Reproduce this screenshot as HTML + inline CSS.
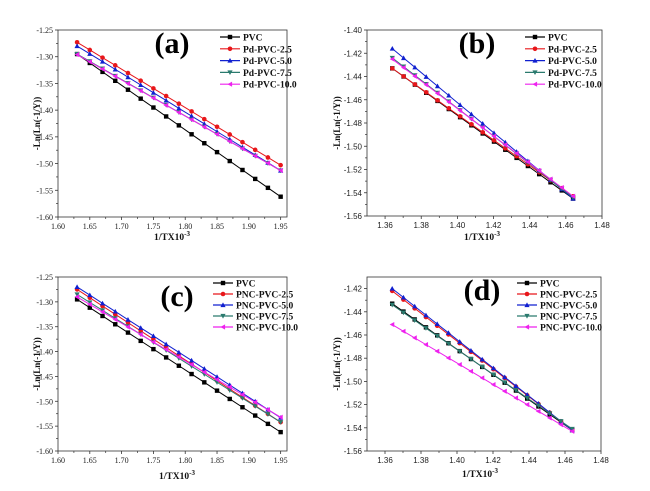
<!DOCTYPE html>
<html><head><meta charset="utf-8"><style>
html,body{margin:0;padding:0;background:#fff;width:650px;height:491px;overflow:hidden}
svg{display:block;font-family:"Liberation Serif",serif}
</style></head><body>
<svg id="fig" width="650" height="491" viewBox="0 0 650 491"></svg>
<script>
const xsAC=[1.63,1.65,1.67,1.69,1.71,1.73,1.75,1.77,1.79,1.81,1.83,1.85,1.87,1.89,1.91,1.93,1.95];
const xsBD=[1.364,1.37025,1.3765,1.38275,1.389,1.39525,1.4015,1.40775,1.414,1.42025,1.4265,1.43275,1.439,1.44525,1.4515,1.45775,1.464];
const aPVC=[-1.295,-1.3117,-1.3284,-1.3451,-1.3618,-1.3785,-1.3951,-1.4118,-1.4285,-1.4452,-1.4619,-1.4786,-1.4953,-1.512,-1.5287,-1.5454,-1.562];
const aPd25=[-1.273,-1.2874,-1.3018,-1.3161,-1.3305,-1.3449,-1.3593,-1.3736,-1.388,-1.4024,-1.4168,-1.4311,-1.4455,-1.4599,-1.4743,-1.4886,-1.503];
const aPd50=[-1.28,-1.2946,-1.3091,-1.3237,-1.3382,-1.3528,-1.3674,-1.3819,-1.3965,-1.411,-1.4256,-1.4402,-1.4547,-1.4693,-1.4838,-1.4984,-1.513];
const aPd75=[-1.295,-1.3086,-1.3223,-1.3359,-1.3495,-1.3631,-1.3768,-1.3904,-1.404,-1.4176,-1.4313,-1.4449,-1.4585,-1.4721,-1.4858,-1.4994,-1.513];
const aPd100=[-1.296,-1.3095,-1.3231,-1.3366,-1.3502,-1.3637,-1.3773,-1.3908,-1.4044,-1.4179,-1.4315,-1.445,-1.4586,-1.4721,-1.4857,-1.4992,-1.513];
const bPVC=[-1.433,-1.44,-1.447,-1.454,-1.461,-1.468,-1.475,-1.482,-1.489,-1.496,-1.503,-1.51,-1.517,-1.524,-1.531,-1.538,-1.545];
const bPd25=[-1.433,-1.4399,-1.4468,-1.4536,-1.4605,-1.4674,-1.4743,-1.4811,-1.488,-1.4949,-1.5018,-1.5086,-1.5155,-1.5224,-1.5293,-1.5361,-1.543];
const bPd50=[-1.416,-1.4241,-1.4321,-1.4402,-1.4483,-1.4563,-1.4644,-1.4724,-1.4805,-1.4886,-1.4966,-1.5047,-1.5128,-1.5208,-1.5289,-1.5369,-1.545];
const bPd75=[-1.424,-1.4315,-1.439,-1.4465,-1.454,-1.4615,-1.469,-1.4765,-1.484,-1.4915,-1.499,-1.5065,-1.514,-1.5215,-1.529,-1.5365,-1.544];
const bPd100=[-1.425,-1.4324,-1.4398,-1.4471,-1.4545,-1.4619,-1.4693,-1.4766,-1.484,-1.4914,-1.4988,-1.5061,-1.5135,-1.5209,-1.5283,-1.5356,-1.543];
const cPVC=[-1.295,-1.3117,-1.3284,-1.3451,-1.3618,-1.3785,-1.3951,-1.4118,-1.4285,-1.4452,-1.4619,-1.4786,-1.4953,-1.512,-1.5287,-1.5454,-1.562];
const cPNC25=[-1.275,-1.2917,-1.3084,-1.3251,-1.3418,-1.3585,-1.3751,-1.3918,-1.4085,-1.4252,-1.4419,-1.4586,-1.4753,-1.492,-1.5087,-1.5254,-1.542];
const cPNC50=[-1.27,-1.2864,-1.3029,-1.3193,-1.3358,-1.3522,-1.3686,-1.3851,-1.4015,-1.4179,-1.4344,-1.4508,-1.4673,-1.4837,-1.5001,-1.5166,-1.533];
const cPNC75=[-1.285,-1.3011,-1.3171,-1.3332,-1.3493,-1.3653,-1.3814,-1.3974,-1.4135,-1.4296,-1.4456,-1.4617,-1.4778,-1.4938,-1.5099,-1.5259,-1.542];
const cPNC100=[-1.29,-1.3051,-1.3203,-1.3354,-1.3505,-1.3656,-1.3808,-1.3959,-1.411,-1.4261,-1.4413,-1.4564,-1.4715,-1.4866,-1.5018,-1.5169,-1.532];
const dPVC=[-1.433,-1.4398,-1.4466,-1.4534,-1.4603,-1.4671,-1.4739,-1.4807,-1.4875,-1.4943,-1.5011,-1.5079,-1.5148,-1.5216,-1.5284,-1.5352,-1.542];
const dPNC25=[-1.422,-1.4295,-1.437,-1.4445,-1.452,-1.4595,-1.467,-1.4745,-1.482,-1.4895,-1.497,-1.5045,-1.512,-1.5195,-1.527,-1.5345,-1.542];
const dPNC50=[-1.42,-1.4276,-1.4353,-1.4429,-1.4505,-1.4581,-1.4658,-1.4734,-1.481,-1.4886,-1.4963,-1.5039,-1.5115,-1.5191,-1.5268,-1.5344,-1.542];
const dPNC75=[-1.434,-1.4407,-1.4474,-1.4541,-1.4608,-1.4674,-1.4741,-1.4808,-1.4875,-1.4942,-1.5009,-1.5076,-1.5143,-1.5209,-1.5276,-1.5343,-1.541];
const dPNC100=[-1.451,-1.4568,-1.4625,-1.4683,-1.474,-1.4798,-1.4855,-1.4913,-1.497,-1.5028,-1.5085,-1.5143,-1.52,-1.5258,-1.5315,-1.5373,-1.543];
const xTicksAC=["1.60","1.65","1.70","1.75","1.80","1.85","1.90","1.95"];
const xTicksBD=["1.36","1.38","1.40","1.42","1.44","1.46","1.48"];
const yTicksAC=["-1.25","-1.30","-1.35","-1.40","-1.45","-1.50","-1.55","-1.60"];
const yTicksB=["-1.40","-1.42","-1.44","-1.46","-1.48","-1.50","-1.52","-1.54","-1.56"];
const yTicksD=["-1.42","-1.44","-1.46","-1.48","-1.50","-1.52","-1.54","-1.56"];
const namesA=["PVC","Pd-PVC-2.5","Pd-PVC-5.0","Pd-PVC-7.5","Pd-PVC-10.0"];
const namesC=["PVC","PNC-PVC-2.5","PNC-PVC-5.0","PNC-PVC-7.5","PNC-PVC-10.0"];

const NS="http://www.w3.org/2000/svg";
const svg=document.getElementById('fig');
const COLORS=["#000","#e8161a","#1020d0","#2a7a6e","#ee22ee"];
const MARK=["sq","ci","tu","td","tl"];
function mk(tag,attrs,parent){const e=document.createElementNS(NS,tag);for(const k in attrs)e.setAttribute(k,attrs[k]);(parent||svg).appendChild(e);return e;}
function marker(g,type,x,y,c){
  let e;const s=2.6;
  if(type==="sq")e=mk('rect',{x:x-s+0.4,y:y-s+0.4,width:2*s-0.8,height:2*s-0.8,fill:c},g);
  else if(type==="ci")e=mk('circle',{cx:x,cy:y,r:s-0.3,fill:c},g);
  else if(type==="tu")e=mk('polygon',{points:`${x},${y-s} ${x-s},${y+s*0.8} ${x+s},${y+s*0.8}`,fill:c},g);
  else if(type==="td")e=mk('polygon',{points:`${x},${y+s} ${x-s},${y-s*0.8} ${x+s},${y-s*0.8}`,fill:c},g);
  else e=mk('polygon',{points:`${x-s},${y} ${x+s*0.8},${y-s} ${x+s*0.8},${y+s}`,fill:c},g);
  
  
}
function panel(p){
  const g=mk('g',{});
  
  
  const X=v=>p.x0+(v-p.xd[0])/(p.xd[1]-p.xd[0])*(p.x1-p.x0);
  const Y=v=>p.y0+(v-p.yd[0])/(p.yd[1]-p.yd[0])*(p.y1-p.y0);
  const box=mk('rect',{x:p.x0,y:p.y0,width:p.x1-p.x0,height:p.y1-p.y0,fill:"none",stroke:"#333","stroke-width":0.8},g);
  
  
  p.xt.forEach((t,i)=>{const v=parseFloat(t),x=X(v);
    mk('line',{x1:x,y1:p.y1,x2:x,y2:p.y1+3,stroke:"#333","stroke-width":0.8},g);
    if(i<p.xt.length-1){const xm=X(v+p.xstep/2);mk('line',{x1:xm,y1:p.y1,x2:xm,y2:p.y1+2,stroke:"#333","stroke-width":0.7},g);}
    const tx=mk('text',{x:x,y:p.y1+12,"font-size":8,"font-family":p.tf,"text-anchor":"middle",fill:"#222"},g);tx.textContent=t;
    
    
  });
  p.yt.forEach((t,i)=>{const v=parseFloat(t),y=Y(v);
    mk('line',{x1:p.x0,y1:y,x2:p.x0-3,y2:y,stroke:"#333","stroke-width":0.8},g);
    if(i<p.yt.length-1){const ym=Y(v-p.ystep/2);mk('line',{x1:p.x0,y1:ym,x2:p.x0-2,y2:ym,stroke:"#333","stroke-width":0.7},g);}
    const tx=mk('text',{x:p.x0-5,y:y+3,"font-size":8,"font-family":p.tf,"text-anchor":"end",fill:"#222"},g);tx.textContent=t;
    
    
  });
  p.series.forEach((ys,si)=>{
    const sg=mk('g',{},g);
    
    
    const pts=ys.map((v,i)=>X(p.xs[i])+","+Y(v)).join(" ");
    mk('polyline',{points:pts,fill:"none",stroke:COLORS[si],"stroke-width":1},sg);
    ys.forEach((v,i)=>marker(sg,p.mk[si],X(p.xs[i]),Y(v),COLORS[si]));
  });
  const lg=mk('g',{},g);
  
  
  p.names.forEach((n,i)=>{const y=p.ly+i*p.lstep;
    const eg=mk('g',{},lg);
    
    
    mk('line',{x1:p.lx,y1:y,x2:p.lx+20,y2:y,stroke:COLORS[i],"stroke-width":1.2},eg);
    marker(eg,p.mk[i],p.lx+10,y,COLORS[i]);
    const t=mk('text',{x:p.lx+23,y:y+3.5,"font-size":9.5,"font-weight":"bold",fill:"#111"},eg);t.textContent=n;
  });
  const lab=mk('text',{x:p.labx,y:p.laby,"font-size":30,"font-weight":"bold","text-anchor":"middle",fill:"#000"},g);
  lab.textContent="("+p.id+")";
  
  
  const yt=mk('text',{x:0,y:0,"font-size":9,"font-weight":"bold","text-anchor":"middle",fill:"#111",transform:`translate(${p.ytx},${(p.y0+p.y1)/2}) rotate(-90)`},g);
  yt.textContent="-Ln(Ln(-1/Y))";
  
  
  const xt=mk('text',{x:p.xtx,y:p.xty,"font-size":9.5,"font-weight":"bold","text-anchor":"middle",fill:"#111"},g);
  xt.innerHTML='1/TX10<tspan dy="-4" font-size="7">-3</tspan>';
  
  
}
const SER="Liberation Serif, serif", SAN="Liberation Sans, sans-serif";
panel({id:"a",x0:58,x1:287,y0:30,y1:217,xd:[1.60,1.96],yd:[-1.25,-1.60],xt:xTicksAC,yt:yTicksAC,xstep:0.05,ystep:0.05,tf:SER,
  xs:xsAC,series:[aPVC,aPd25,aPd50,aPd75,aPd100],names:namesA,mk:MARK,lx:220,ly:37,lstep:11.8,labx:172,laby:53,ytx:40,xtx:172,xty:240});
panel({id:"b",x0:367,x1:602,y0:30,y1:216,xd:[1.35,1.48],yd:[-1.40,-1.56],xt:xTicksBD,yt:yTicksB,xstep:0.02,ystep:0.02,tf:SAN,
  xs:xsBD,series:[bPVC,bPd25,bPd50,bPd75,bPd100],names:namesA,mk:MARK,lx:525,ly:37,lstep:11.8,labx:477,laby:53,ytx:340,xtx:482,xty:240});
panel({id:"c",x0:58,x1:287,y0:277,y1:451,xd:[1.60,1.96],yd:[-1.25,-1.60],xt:xTicksAC,yt:yTicksAC,xstep:0.05,ystep:0.05,tf:SER,
  xs:xsAC,series:[cPVC,cPNC25,cPNC50,cPNC75,cPNC100],names:namesC,mk:MARK,lx:213,ly:283,lstep:11,labx:177,laby:306,ytx:40,xtx:177,xty:479});
panel({id:"d",x0:367,x1:601,y0:277,y1:451,xd:[1.35,1.48],yd:[-1.41,-1.56],xt:xTicksBD,yt:yTicksD,xstep:0.02,ystep:0.02,tf:SAN,
  xs:xsBD,series:[dPVC,dPNC25,dPNC50,dPNC75,dPNC100],names:namesC,mk:["sq","ci","tu","td","tl"],lx:517,ly:283,lstep:11,labx:482,laby:300,ytx:340,xtx:480,xty:477});
</script>
</body></html>
